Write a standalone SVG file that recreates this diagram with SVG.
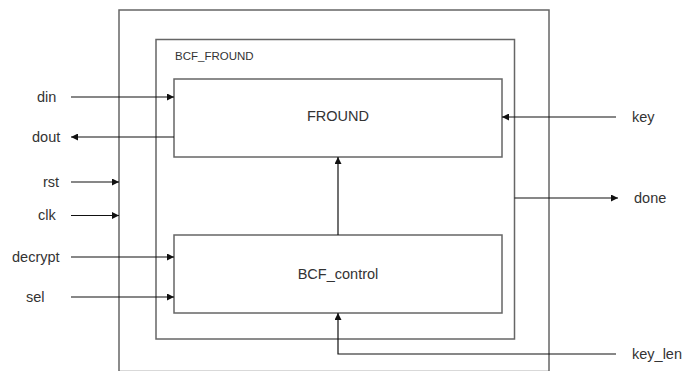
<svg xmlns="http://www.w3.org/2000/svg" width="698" height="371" viewBox="0 0 698 371">
<style>
.box{fill:none;stroke:#666;stroke-width:1.5}
.w{fill:none;stroke:#111;stroke-width:1.2}
text{font-family:"Liberation Sans",Arial,sans-serif;font-size:14.5px;fill:#333}
.t{font-size:11.5px}
</style>
<defs>
<marker id="a" viewBox="0 0 10 10" refX="10" refY="5" markerWidth="11" markerHeight="7" markerUnits="userSpaceOnUse" orient="auto"><path d="M0,0L10,5L0,10z" fill="#111"/></marker>
</defs>
<rect width="698" height="371" fill="#fff"/>
<g id="outer"><rect class="box" x="119" y="10" width="430" height="361.5"/></g>
<g id="bcf_fround"><rect class="box" x="156" y="39.5" width="358.5" height="299.5"/><text class="t" x="175" y="60">BCF_FROUND</text></g>
<g id="fround"><rect class="box" x="174" y="79" width="328" height="78"/><text x="338" y="121" text-anchor="middle">FROUND</text></g>
<g id="bcf_control"><rect class="box" x="174" y="235" width="328" height="78"/><text x="338" y="279" text-anchor="middle">BCF_control</text></g>
<g id="ports">
<text x="37" y="102">din</text>
<text x="32" y="142">dout</text>
<text x="43" y="187">rst</text>
<text x="38" y="220">clk</text>
<text x="12" y="262">decrypt</text>
<text x="26" y="302">sel</text>
<text x="632" y="122">key</text>
<text x="634" y="203">done</text>
<text x="632" y="359">key_len</text>
</g>
<g id="connectors">
<path class="w" d="M71,97H174" marker-end="url(#a)"/>
<path class="w" d="M174,137H71" marker-end="url(#a)"/>
<path class="w" d="M71,182H119" marker-end="url(#a)"/>
<path class="w" d="M71,215.5H119" marker-end="url(#a)"/>
<path class="w" d="M71,257H174" marker-end="url(#a)"/>
<path class="w" d="M71,297H174" marker-end="url(#a)"/>
<path class="w" d="M616,117H502" marker-end="url(#a)"/>
<path class="w" d="M514.5,198H618" marker-end="url(#a)"/>
<path class="w" d="M616,354H338V313" marker-end="url(#a)"/>
<path class="w" d="M338,235V157" marker-end="url(#a)"/>
</g>
</svg>
